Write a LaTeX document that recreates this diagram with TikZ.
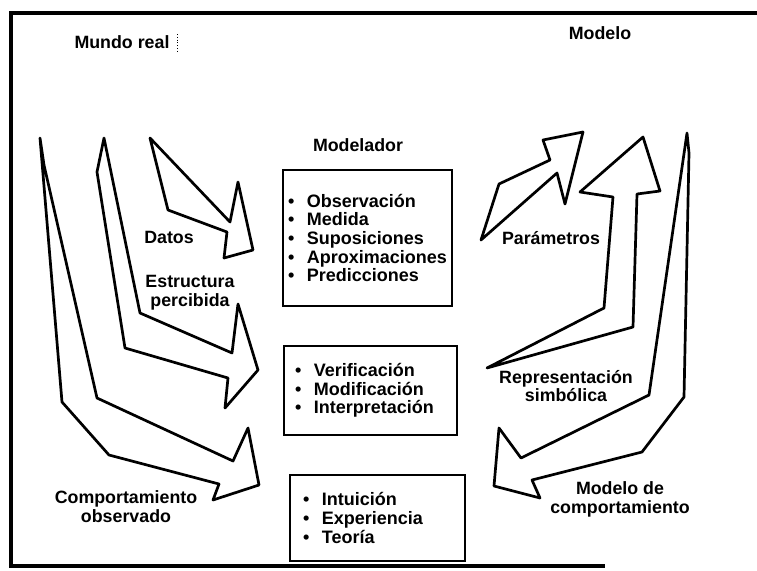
\documentclass[tikz,border=0pt]{standalone}
\usepackage{fontspec}
\setmainfont{Liberation Sans}
\hyphenpenalty=10000
\exhyphenpenalty=10000
\begin{document}
\begin{tikzpicture}[x=1pt,y=-1pt,
  lbl/.style={font=\fontsize{17.8}{18.8}\selectfont\bfseries, align=center, inner sep=0pt},
  boxnode/.style={draw, line width=2.8pt, font=\fontsize{18}{18.7}\selectfont\bfseries, align=left, inner ysep=0pt},
  bigarrow/.style={draw, line width=2.7pt, line join=round, fill=white},
  frameline/.style={line width=3.2pt}]
\useasboundingbox (0,0) rectangle (757,570);
\fill[white] (0,0) rectangle (757,570);
% frame
\draw[frameline] (757,13) -- (11,13) -- (11,566) -- (605,566);

% headings
\node[lbl] (mundo) at (122,42) {Mundo real};
\draw[dotted, line width=0.8pt] (177,34) -- (177,52);
\node[lbl] (modelo) at (600,33) {Modelo};
\node[lbl] (modelador) at (358,145) {Modelador};

% boxes
\newcommand{\bul}{•\hspace{0.7em}}
\node[boxnode, minimum width=169pt, minimum height=136pt, inner xsep=5pt, text width=159pt] (b1) at (367.5,238)
 {\bul Observación\\ \bul Medida\\ \bul Suposiciones\\ \bul Aproximaciones\\ \bul Predicciones};
\node[boxnode, minimum width=173pt, minimum height=89pt, inner xsep=11pt, text width=151pt] (b2) at (370.5,390.5)
 {\bul Verificación\\ \bul Modificación\\ \bul Interpretación};
\node[boxnode, minimum width=175pt, minimum height=86pt, inner xsep=13pt, text width=149pt] (b3) at (377.5,518)
 {\bul Intuición\\ \bul Experiencia\\ \bul Teoría};

% left arrows
\draw[bigarrow] (40,138) -- (44,165) -- (97,398) -- (233,461) -- (248,428) -- (259,485)
  -- (213,500) -- (219,484) -- (109,455) -- (62,402) -- cycle;
\draw[bigarrow] (104,138) -- (140,313) -- (232,353) -- (238,304) -- (258,370) -- (225,408)
  -- (228,378) -- (125,348) -- (97,172) -- cycle;
\draw[bigarrow] (150,138) -- (230,222) -- (238,182) -- (253,250) -- (224,258) -- (227,232)
  -- (168,210) -- cycle;

% right arrows
\draw[bigarrow] (481,240) -- (499,184) -- (550,160) -- (543,140) -- (583,132) -- (565,204)
  -- (557,173) -- cycle;
\draw[bigarrow] (687,133) -- (689,153) -- (684,397) -- (642,452) -- (532,480) -- (540,498)
  -- (494,486) -- (499,428) -- (521,458) -- (649,395) -- cycle;
\draw[bigarrow] (487,368) -- (604,308) -- (613,197) -- (580,192) -- (643,137) -- (660,191)
  -- (637,194) -- (633,327) -- cycle;

% labels
\node[lbl] (datos) at (169,237) {Datos};
\node[lbl] (estructura) at (190,292.5) {Estructura\\percibida};
\node[lbl] (comp) at (126,507) {Comportamiento\\observado};
\node[lbl] (param) at (551,238) {Parámetros};
\node[lbl] (repr) at (566,386) {Representación\\simbólica};
\node[lbl] (modcomp) at (620,499.5) {Modelo de\\comportamiento};
\end{tikzpicture}
\end{document}
